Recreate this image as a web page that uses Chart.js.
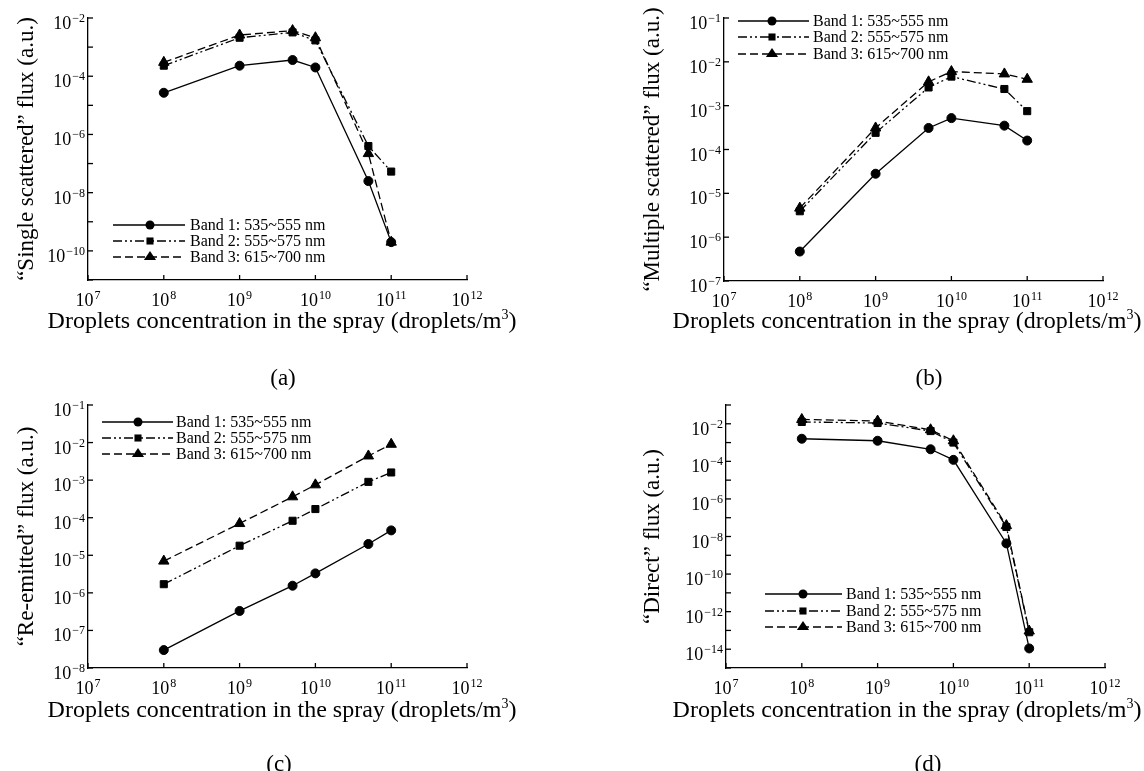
<!DOCTYPE html>
<html>
<head>
<meta charset="utf-8">
<script src="https://cdn.jsdelivr.net/npm/chart.js@4/dist/chart.umd.min.js"></script>
<style>
  body { margin: 0; background: #fff; width: 1144px; height: 771px; position: relative; overflow: hidden;
         font-family: "Liberation Serif", "Times New Roman", serif; color: #000; }
  canvas { position: absolute; }
  .xt { position: absolute; font-size: 24px; line-height: 24px; white-space: nowrap; transform: translate(-50%, -50%); }
  .xt sup { font-size: 14px; line-height: 0; vertical-align: 9px; }
  .cap { position: absolute; font-size: 23px; line-height: 23px; transform: translate(-50%, -50%); }
</style>
</head>
<body>
<canvas id="chartA" width="572" height="385" style="left:0;top:0"></canvas>
<canvas id="chartB" width="572" height="385" style="left:572px;top:0"></canvas>
<canvas id="chartC" width="572" height="386" style="left:0;top:385px"></canvas>
<canvas id="chartD" width="572" height="386" style="left:572px;top:385px"></canvas>

<div class="xt" style="left:282px;top:320px">Droplets concentration in the spray (droplets/m<sup>3</sup>)</div>
<div class="xt" style="left:907px;top:320px">Droplets concentration in the spray (droplets/m<sup>3</sup>)</div>
<div class="xt" style="left:282px;top:709px">Droplets concentration in the spray (droplets/m<sup>3</sup>)</div>
<div class="xt" style="left:907px;top:709px">Droplets concentration in the spray (droplets/m<sup>3</sup>)</div>
<div class="cap" style="left:283px;top:377px">(a)</div>
<div class="cap" style="left:929px;top:377px">(b)</div>
<div class="cap" style="left:279px;top:763px">(c)</div>
<div class="cap" style="left:928px;top:763px">(d)</div>

<script>
// droplets/m3
const concentration = [1e8, 1e9, 5e9, 1e10, 5e10, 1e11];
const bandNames = ['Band 1: 535~555 nm', 'Band 2: 555~575 nm', 'Band 3: 615~700 nm'];
const xExponents = [7, 8, 9, 10, 11, 12];

// (a) single scattered flux
const singleBand1 = [2.7e-5, 2.3e-4, 3.6e-4, 2.0e-4, 2.5e-8, 2.0e-10];
const singleBand2 = [2.3e-4, 2.1e-3, 3.2e-3, 1.7e-3, 4.0e-7, 5.3e-8];
const singleBand3 = [3.0e-4, 2.6e-3, 3.7e-3, 2.1e-3, 2.2e-7, 2.0e-10];

// (b) multiple scattered flux
const multipleBand1 = [4.7e-7, 2.8e-5, 3.1e-4, 5.2e-4, 3.5e-4, 1.6e-4];
const multipleBand2 = [3.9e-6, 2.4e-4, 2.6e-3, 4.6e-3, 2.4e-3, 7.5e-4];
const multipleBand3 = [4.6e-6, 3.1e-4, 3.5e-3, 6.0e-3, 5.3e-3, 4.0e-3];

// (c) re-emitted flux
const reemittedBand1 = [3.0e-8, 3.3e-7, 1.55e-6, 3.3e-6, 2.0e-5, 4.6e-5];
const reemittedBand2 = [1.7e-6, 1.8e-5, 8.3e-5, 1.7e-4, 9.0e-4, 1.6e-3];
const reemittedBand3 = [7.0e-6, 7.0e-5, 3.6e-4, 7.5e-4, 4.4e-3, 9.0e-3];

// (d) direct flux
const directBand1 = [1.6e-3, 1.25e-3, 4.4e-4, 1.2e-4, 4.3e-9, 1.1e-14];
const directBand2 = [1.25e-2, 1.1e-2, 4.1e-3, 1.0e-3, 3.2e-8, 8.0e-14];
const directBand3 = [1.7e-2, 1.4e-2, 4.8e-3, 1.25e-3, 3.8e-8, 9.3e-14];

const FONT = '"Liberation Serif", "Times New Roman", serif';
Chart.defaults.font.family = FONT;
Chart.defaults.color = '#000';

const bandStyle = [
  { dash: [], point: 'circle', r: 4.5 },
  { dash: [9, 3, 2, 3, 2, 3], point: 'rect', r: 5 },
  { dash: [8, 4], point: 'triangle', r: 6 }
];

function drawMarker(c, style, r, x, y) {
  c.beginPath();
  if (style === 'circle') {
    c.arc(x, y, r, 0, Math.PI * 2);
  } else if (style === 'rect') {
    const s = r * Math.SQRT1_2;
    c.rect(x - s, y - s, 2 * s, 2 * s);
  } else {
    const h = r * 1.5, w = r * 0.866 * 1.5;
    c.moveTo(x, y - r);
    c.lineTo(x + w * 0.78, y + h - r);
    c.lineTo(x - w * 0.78, y + h - r);
    c.closePath();
  }
  c.fill();
}

function drawPow(c, exp, x, baseY, align) {
  const sup = exp < 0 ? '\u2212' + (-exp) : String(exp);
  c.font = '18px ' + FONT;
  const wb = c.measureText('10').width;
  c.font = '12px ' + FONT;
  const ws = c.measureText(sup).width;
  const left = align === 'right' ? x - wb - ws - 1 : x - (wb + ws + 1) / 2;
  c.textAlign = 'left';
  c.textBaseline = 'alphabetic';
  c.font = '18px ' + FONT;
  c.fillText('10', left, baseY);
  c.font = '12px ' + FONT;
  c.fillText(sup, left + wb + 1, baseY - 7);
}

function makePanel(id, yTitle, series, yMinExp, yMaxExp, labelStep, box, legend) {
  const decor = {
    id: 'decor' + id,
    afterDraw(chart) {
      const c = chart.ctx, xs = chart.scales.x, ys = chart.scales.y, a = chart.chartArea;
      c.save();
      c.strokeStyle = '#000';
      c.fillStyle = '#000';
      c.lineWidth = 1.3;
      c.setLineDash([]);
      // inward ticks + labels on x
      xExponents.forEach(e => {
        const px = xs.getPixelForValue(Math.pow(10, e));
        c.beginPath(); c.moveTo(px, a.bottom); c.lineTo(px, a.bottom - 5); c.stroke();
        drawPow(c, e, px, a.bottom + 26, 'center');
      });
      // inward ticks + labels on y
      for (let e = yMinExp; e <= yMaxExp; e++) {
        const py = ys.getPixelForValue(Math.pow(10, e));
        c.beginPath(); c.moveTo(a.left, py); c.lineTo(a.left + 5, py); c.stroke();
        if (e % labelStep === 0) drawPow(c, e, a.left - 3, py + 11, 'right');
      }
      // legend: line + marker + text
      c.font = '16px ' + FONT;
      c.textBaseline = 'middle';
      c.textAlign = 'left';
      bandNames.forEach((name, i) => {
        const st = bandStyle[i], y = legend.ys[i];
        c.lineWidth = 1.3;
        c.setLineDash(st.dash);
        c.beginPath(); c.moveTo(legend.x0, y); c.lineTo(legend.x1, y); c.stroke();
        c.setLineDash([]);
        drawMarker(c, st.point, st.r, legend.xm, y);
        c.fillText(name, legend.xt, y + 1);
      });
      c.restore();
    }
  };

  return new Chart(document.getElementById(id).getContext('2d'), {
    type: 'line',
    data: {
      datasets: series.map((vals, i) => ({
        label: bandNames[i],
        data: concentration.map((x, k) => ({ x: x, y: vals[k] })),
        borderColor: '#000',
        backgroundColor: '#000',
        borderWidth: 1.3,
        borderDash: bandStyle[i].dash,
        pointStyle: bandStyle[i].point,
        pointRadius: bandStyle[i].r,
        pointBackgroundColor: '#000',
        pointBorderColor: '#000',
        pointBorderWidth: 1,
        tension: 0,
        fill: false
      }))
    },
    options: {
      responsive: false,
      animation: false,
      layout: { padding: { left: 0, top: box.top, right: box.right, bottom: 0 } },
      plugins: { legend: { display: false }, tooltip: { enabled: false } },
      scales: {
        x: {
          type: 'logarithmic',
          min: 1e7,
          max: 1e12,
          grid: { display: false },
          border: { display: true, color: '#000', width: 1.3 },
          ticks: { display: false },
          afterFit(s) { s.height = box.xh; }
        },
        y: {
          type: 'logarithmic',
          min: Math.pow(10, yMinExp),
          max: Math.pow(10, yMaxExp),
          grid: { display: false },
          border: { display: true, color: '#000', width: 1.3 },
          ticks: { display: false },
          title: {
            display: true,
            text: yTitle,
            color: '#000',
            font: { size: 23, family: FONT },
            padding: { top: box.tp, bottom: 0 }
          },
          afterFit(s) { s.width = box.yw; }
        }
      }
    },
    plugins: [decor]
  });
}

makePanel('chartA', '\u201cSingle scattered\u201d flux (a.u.)',
  [singleBand1, singleBand2, singleBand3], -11, -2, 2,
  { top: 18, right: 105, xh: 105, yw: 88, tp: 13 },
  { x0: 113, x1: 185, xm: 150, xt: 190, ys: [225, 241, 257] });

makePanel('chartB', '\u201cMultiple scattered\u201d flux (a.u.)',
  [multipleBand1, multipleBand2, multipleBand3], -7, -1, 1,
  { top: 18, right: 41, xh: 104, yw: 152, tp: 67 },
  { x0: 166, x1: 237, xm: 200, xt: 241, ys: [21, 37, 54] });

makePanel('chartC', '\u201cRe-emitted\u201d flux (a.u.)',
  [reemittedBand1, reemittedBand2, reemittedBand3], -8, -1, 1,
  { top: 20, right: 105, xh: 103, yw: 88, tp: 13 },
  { x0: 102, x1: 173, xm: 138, xt: 176, ys: [37, 53, 69] });

makePanel('chartD', '\u201cDirect\u201d flux (a.u.)',
  [directBand1, directBand2, directBand3], -15, -1, 2,
  { top: 20, right: 39, xh: 103, yw: 154, tp: 67 },
  { x0: 193, x1: 270, xm: 231, xt: 274, ys: [209, 226, 242] });
</script>
</body>
</html>
